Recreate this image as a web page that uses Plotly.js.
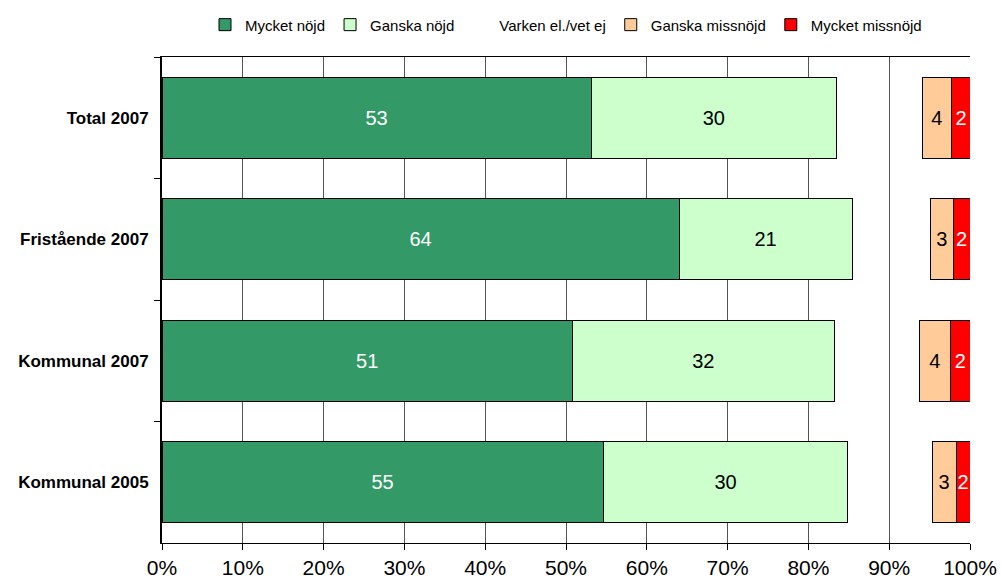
<!DOCTYPE html>
<html>
<head>
<meta charset="utf-8">
<script src="https://cdn.plot.ly/plotly-3.0.1.min.js"></script>
<style>html,body{margin:0;padding:0;background:#fff;}#chart{width:1001px;height:585px;}</style>
</head>
<body>
<div id="chart"></div>
<script>
const categories = ["Total 2007", "Fristående 2007", "Kommunal 2007", "Kommunal 2005"];
const seriesNames = ["Mycket nöjd", "Ganska nöjd", "Varken el./vet ej", "Ganska missnöjd", "Mycket missnöjd"];
const mycketNojd = [53.1, 64.0, 50.8, 54.6];
const ganskaNojd = [30.4, 21.4, 32.4, 30.3];
const varken = [10.6, 9.7, 10.5, 10.4];
const ganskaMissnojd = [3.6, 2.8, 3.9, 3.0];
const mycketMissnojd = [2.4, 2.1, 2.4, 1.7];
const xTickVals = [0, 10, 20, 30, 40, 50, 60, 70, 80, 90, 100];
const xTickText = ["0%", "10%", "20%", "30%", "40%", "50%", "60%", "70%", "80%", "90%", "100%"];

const colors = ["#339966", "#CCFFCC", "rgba(0,0,0,0)", "#FFCC99", "#FF0000"];
const textColors = ["#FFFFFF", "#000000", "#000000", "#000000", "#FFFFFF"];
const values = [mycketNojd, ganskaNojd, varken, ganskaMissnojd, mycketMissnojd];

const traces = values.map((v, i) => ({
  type: "bar",
  orientation: "h",
  name: seriesNames[i],
  y: categories,
  x: v,
  marker: {
    color: colors[i],
    line: { color: i === 2 ? "rgba(0,0,0,0)" : "#000000", width: i === 2 ? 0 : 1 }
  },
  text: i === 2 ? null : v.map(x => Math.round(x).toString()),
  texttemplate: i === 2 ? "" : "%{text}",
  textposition: i === 2 ? "none" : "inside",
  insidetextanchor: "middle",
  constraintext: "none",
  textfont: { family: "Liberation Sans, Arial, sans-serif", size: 20, color: textColors[i] },
  hoverinfo: "x+name"
}));

const layout = {
  width: 1001,
  height: 585,
  barmode: "stack",
  bargap: 0.333,
  paper_bgcolor: "#FFFFFF",
  plot_bgcolor: "#FFFFFF",
  margin: { l: 162, r: 31, t: 57, b: 42, autoexpand: false },
  font: { family: "Liberation Sans, Arial, sans-serif", color: "#000000" },
  showlegend: true,
  legend: {
    orientation: "h",
    x: 0.5, xanchor: "center",
    y: 1.1, yanchor: "top",
    font: { size: 15, family: "Liberation Sans, Arial, sans-serif" },
    traceorder: "normal",
    itemwidth: 30,
    tracegroupgap: 0
  },
  xaxis: {
    range: [0, 100],
    tickvals: xTickVals,
    ticktext: xTickText,
    tickfont: { size: 21 },
    ticks: "outside",
    ticklen: 6,
    tickcolor: "#000000",
    showgrid: true,
    gridcolor: "#555555",
    gridwidth: 1,
    showline: true,
    linecolor: "#000000",
    linewidth: 1,
    mirror: true,
    zeroline: false,
    fixedrange: true
  },
  yaxis: {
    type: "category",
    autorange: "reversed",
    tickfont: { size: 17, family: "Liberation Sans, Arial, sans-serif", weight: "bold" },
    ticks: "outside",
    tickson: "boundaries",
    ticklen: 6,
    tickcolor: "#000000",
    showgrid: false,
    showline: true,
    linecolor: "#000000",
    linewidth: 2,
    mirror: false,
    ticklabelstandoff: 8,
    fixedrange: true
  }
};

Plotly.newPlot("chart", traces, layout, { displayModeBar: false, staticPlot: true });
</script>
</body>
</html>
